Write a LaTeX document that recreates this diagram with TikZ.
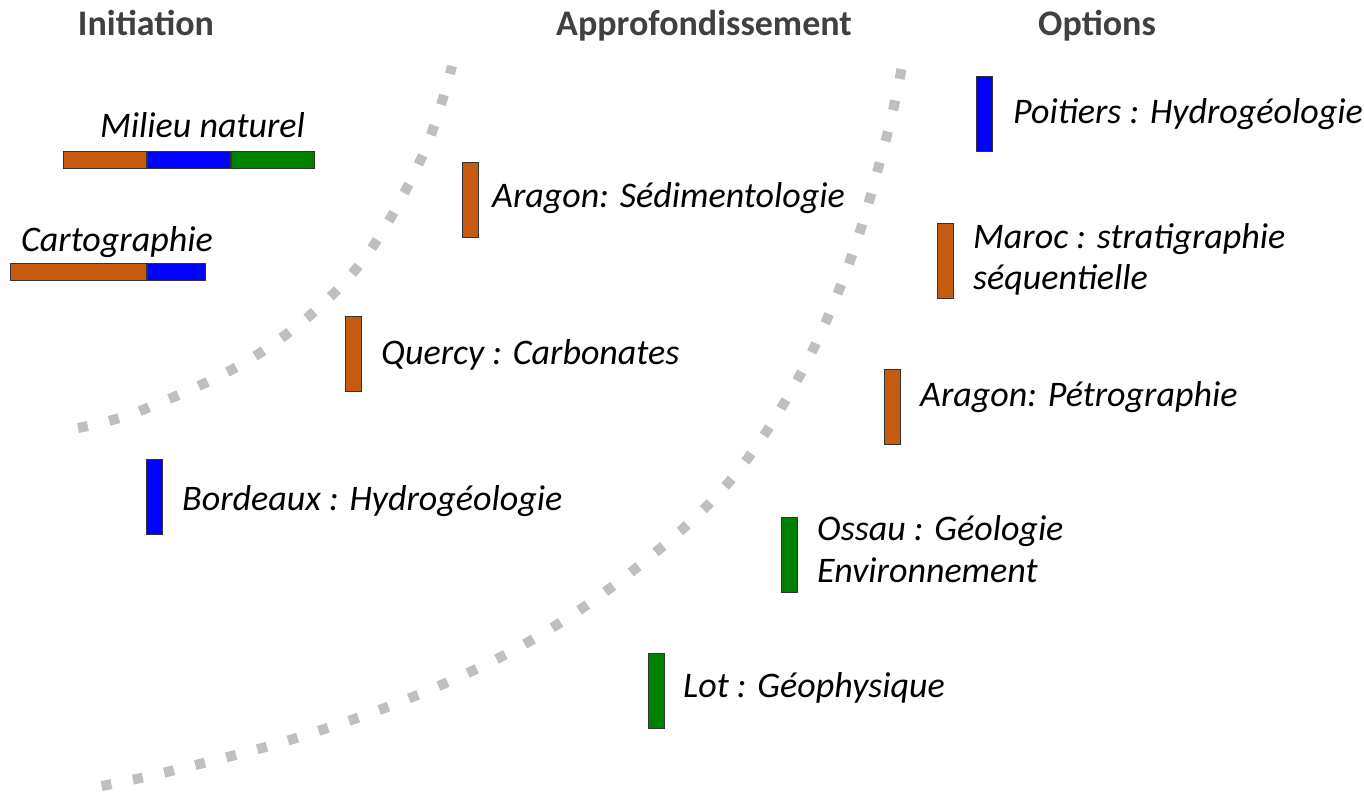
\documentclass[tikz,border=0pt]{standalone}
\usepackage{fontspec}
\setmainfont{Carlito}
\definecolor{geoorange}{HTML}{C55A11}
\definecolor{geoblue}{HTML}{0000FF}
\definecolor{geogreen}{HTML}{008000}
\definecolor{headgray}{HTML}{404040}
\definecolor{dotgray}{HTML}{BFBFBF}
\begin{document}
\begin{tikzpicture}[x=1pt,y=-1pt,
  heading/.style={font=\fontsize{36}{43}\selectfont\bfseries, text=headgray, inner sep=0pt, anchor=base},
  lbl/.style={font=\fontsize{36}{41}\selectfont\itshape, inner sep=0pt, anchor=base west},
  vbar/.style={draw=black!80, line width=0.8pt, minimum width=16pt, minimum height=75pt, inner sep=0pt},
  hseg/.style={draw=black!80, line width=0.8pt, minimum height=17pt, inner sep=0pt, anchor=west},
  sepline/.style={draw=dotgray, line width=10pt, dash pattern=on 10pt off 22pt}]
\useasboundingbox (0,0) rectangle (1364,792);

% separators
\draw[sepline] plot[smooth, tension=0.6] coordinates {(78,428) (145,409) (260,353) (356,269) (421,159) (452,66)};
\draw[sepline] plot[smooth, tension=0.6] coordinates {(101.6,786) (171,771) (293,739) (415,696) (530,641) (635,569) (729,482) (800,375) (851,258) (887,135) (902,66)};

% headings
\node[heading] (hinit) at (146,36) {Initiation};
\node[heading] (happ) at (704,36) {Approfondissement};
\node[heading] (hopt) at (1097,36) {Options};

% Initiation
\node[lbl] (milieu) at (100,137) {Milieu naturel};
\node[hseg, fill=geoorange, minimum width=83pt] (mn1) at (63,160) {};
\node[hseg, fill=geoblue, minimum width=83pt] (mn2) at (mn1.east) {};
\node[hseg, fill=geogreen, minimum width=83pt] (mn3) at (mn2.east) {};

\node[lbl] (carto) at (21,251) {Cartographie};
\node[hseg, fill=geoorange, minimum width=136pt] (ca1) at (10,272) {};
\node[hseg, fill=geoblue, minimum width=58pt] (ca2) at (ca1.east) {};

\node[vbar, fill=geoblue] (bbar) at (154,497) {};
\node[lbl] (bordeaux) at (182,510) {Bordeaux : Hydrogéologie};

% Approfondissement
\node[vbar, fill=geoorange] (asbar) at (470,200) {};
\node[lbl] (aragons) at (492,207) {Aragon: Sédimentologie};

\node[vbar, fill=geoorange] (qbar) at (353,353.5) {};
\node[lbl] (quercy) at (381,364) {Quercy : Carbonates};

\node[vbar, fill=geogreen] (lbar) at (656.5,690.5) {};
\node[lbl] (lot) at (683,697) {Lot : Géophysique};

\node[vbar, fill=geogreen] (obar) at (789.5,554.5) {};
\node[lbl] (ossau1) at (817,540) {Ossau : Géologie};
\node[lbl] (ossau2) at (817,582) {Environnement};

% Options
\node[vbar, fill=geoblue] (pbar) at (984.5,114) {};
\node[lbl] (poitiers) at (1013,123) {Poitiers : Hydrogéologie};

\node[vbar, fill=geoorange] (mbar) at (945,261) {};
\node[lbl] (maroc1) at (973,248) {Maroc : stratigraphie};
\node[lbl] (maroc2) at (973,289) {séquentielle};

\node[vbar, fill=geoorange] (apbar) at (892,406.5) {};
\node[lbl] (aragonp) at (920,406) {Aragon: Pétrographie};
\end{tikzpicture}
\end{document}
